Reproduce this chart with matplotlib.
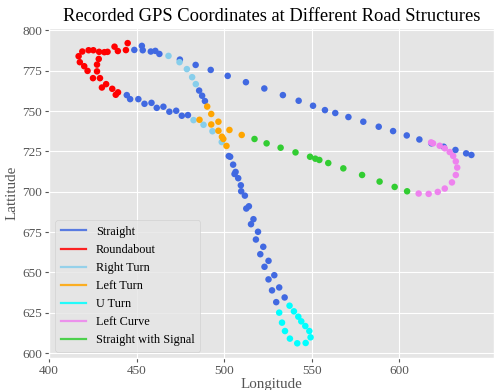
import matplotlib
matplotlib.use("Agg")
import matplotlib.pyplot as plt
from matplotlib.lines import Line2D

plt.style.use("ggplot")
plt.rcParams['font.family'] = ['Liberation Serif', 'DejaVu Serif']

# ---- data ----
straight_x = [448.7, 453.0, 453.5, 458.1, 460.7, 463.0, 474.7, 483.7, 492.3, 502.0, 512.4,
              522.9, 533.5, 542.5, 550.7, 557.5, 563.4, 570.9, 579.4, 588.2, 596.4, 604.2,
              611.4, 618.3, 625.3, 632.0, 638.1, 641.1,
              444.4, 446.3, 451.0, 454.5, 458.5, 461.5, 465.3, 468.7, 472.6, 475.8, 479.3,
              485.7, 487.4, 489.0,
              502.6, 503.4, 505.1, 506.5, 505.9, 508.0, 509.5, 509.7, 511.8, 514.1, 512.6,
              516.7, 515.3, 519.3, 518.1, 522.3, 520.6, 525.3, 523.0, 528.6, 525.3, 531.4,
              527.3, 534.5, 529.7]
straight_y = [787.9, 790.4, 787.7, 786.9, 787.3, 785.4, 781.9, 778.6, 775.5, 771.8, 767.9,
              764.0, 759.9, 756.4, 753.3, 750.6, 748.8, 746.3, 743.4, 740.3, 737.6, 734.9,
              732.4, 730.0, 727.9, 725.9, 723.8, 722.8,
              759.9, 757.4, 757.4, 754.5, 755.1, 752.0, 752.7, 749.6, 750.2, 747.1, 747.5,
              762.7, 759.5, 756.2,
              722.1, 721.7, 716.8, 712.3, 711.0, 708.4, 704.0, 700.3, 697.6, 691.0, 689.6,
              683.0, 679.9, 675.2, 670.4, 665.9, 661.3, 657.2, 653.5, 648.3, 645.7, 640.7,
              638.9, 634.5, 631.6]

roundabout_x = [444.9, 437.4, 439.3, 443.9, 433.4, 431.6, 428.6, 425.3, 422.6, 419.0, 416.9,
                417.6, 420.1, 422.0, 425.1, 428.4, 427.4, 427.4, 429.1, 432.6, 430.2, 436.1,
                439.4, 438.1]
roundabout_y = [792.1, 789.9, 787.2, 787.8, 786.7, 786.5, 786.7, 787.7, 787.7, 786.9, 784.0,
                780.3, 777.8, 774.9, 770.4, 782.3, 778.8, 774.6, 770.4, 766.7, 764.6, 763.8,
                761.6, 760.1]

right_turn_x = [468.2, 474.5, 478.7, 481.7, 483.8, 482.5, 488.2, 493.3, 498.6]
right_turn_y = [784.2, 780.3, 776.0, 771.0, 766.7, 744.4, 741.5, 737.5, 730.8]

left_turn_x = [490.3, 492.6, 485.9, 496.7, 492.6, 496.7, 503.0, 498.7, 499.5, 510.0, 501.3]
left_turn_y = [752.8, 748.2, 744.6, 743.4, 741.7, 737.8, 738.3, 734.1, 732.7, 735.2, 728.4]

u_turn_x = [537.3, 531.4, 539.8, 542.3, 533.0, 544.0, 546.3, 534.7, 548.6, 549.3, 537.5,
            541.7, 546.5]
u_turn_y = [629.4, 625.1, 625.9, 622.6, 618.9, 619.7, 616.8, 613.7, 613.7, 609.8, 609.0,
            606.1, 606.3]

left_curve_x = [618.1, 619.2, 623.0, 625.9, 628.7, 630.7, 632.2, 633.0, 632.2, 630.0, 625.9,
                621.9, 616.7, 611.0]
left_curve_y = [730.6, 730.0, 728.5, 726.9, 724.6, 722.2, 718.8, 715.0, 710.4, 705.8, 702.0,
                699.9, 698.7, 698.9]

signal_x = [517.3, 524.2, 532.2, 540.7, 549.0, 552.0, 554.3, 559.4, 568.0, 578.7, 588.7,
            597.3, 604.4]
signal_y = [732.7, 730.0, 727.3, 724.4, 721.7, 720.5, 719.7, 717.8, 714.5, 710.4, 706.3,
            703.0, 700.3]

labels = ["Straight", "Roundabout", "Right Turn", "Left Turn", "U Turn", "Left Curve",
          "Straight with Signal"]
colors = ["royalblue", "red", "skyblue", "orange", "cyan", "violet", "limegreen"]

series = [(straight_x, straight_y), (roundabout_x, roundabout_y),
          (right_turn_x, right_turn_y), (left_turn_x, left_turn_y),
          (u_turn_x, u_turn_y), (left_curve_x, left_curve_y), (signal_x, signal_y)]

fig = plt.figure(figsize=(4.94, 3.90), dpi=100)
ax = fig.add_axes([0.0992, 0.0821, 0.9008, 0.8462])

for (xs, ys), c in zip(series, colors):
    ax.scatter(xs, ys, s=22, color=c, edgecolors='none', zorder=3)

ax.set_xlim(400, 654)
ax.set_ylim(597, 801.5)
ax.set_xticks([400, 450, 500, 550, 600])
ax.set_yticks([600, 625, 650, 675, 700, 725, 750, 775, 800])
ax.tick_params(labelsize=9.5, colors='#555555', labelcolor='#555555', length=3, pad=2)
ax.set_title("Recorded GPS Coordinates at Different Road Structures", fontsize=13.3,
             color='black', pad=5)
ax.set_xlabel("Longitude", fontsize=10.8, color='#555555', labelpad=1)
ax.set_ylabel("Lattitude", fontsize=10.8, color='#555555', labelpad=3)

handles = [Line2D([0], [0], color=c, lw=1.6, alpha=0.85) for c in colors]
ax.legend(handles, labels, loc='lower left', fontsize=8.8, handlelength=2.1,
          handletextpad=0.8, labelspacing=0.5, borderpad=0.45, framealpha=0.8)

fig.savefig("out.png", dpi=100)
